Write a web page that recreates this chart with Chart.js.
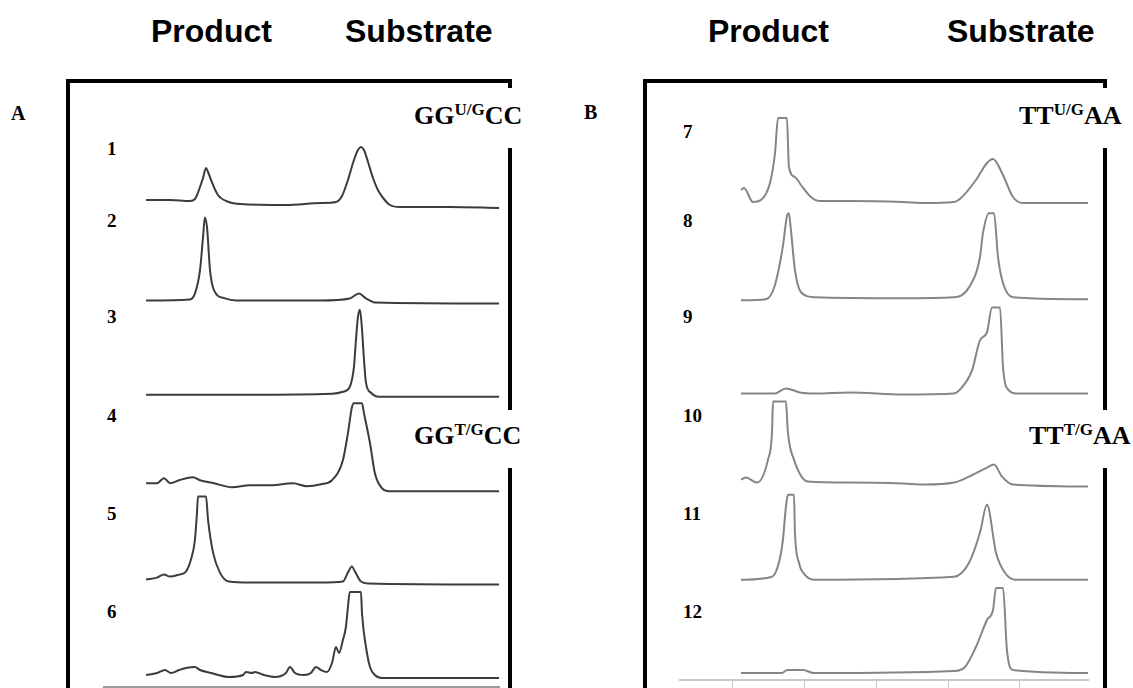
<!DOCTYPE html>
<html>
<head>
<meta charset="utf-8">
<script src="https://cdn.jsdelivr.net/npm/chart.js@4.4.0/dist/chart.umd.min.js"></script>
<style>
  body { margin: 0; width: 1133px; height: 688px; overflow: hidden; position: relative; background: #fff; font-family: "Liberation Serif", "Times New Roman", serif; }
  .txt { position: absolute; line-height: 1; white-space: nowrap; font-weight: bold; }
  .head { font-family: "Liberation Sans", Arial, sans-serif; font-size: 32px; }
  .box { position: absolute; border: 4px solid #000; border-bottom: none; height: 700px; }
  .gap { position: absolute; background: #fff; width: 12px; }
  .lane { font-size: 19px; }
  .panel { font-size: 20px; }
  .seq { font-size: 26px; }
  .seq span { position: relative; top: -9px; font-size: 17px; }
  canvas { position: absolute; }
</style>
</head>
<body>
<!-- column headings -->
<div class="txt head" style="left:151px;top:15px">Product</div>
<div class="txt head" style="left:345px;top:15px">Substrate</div>
<div class="txt head" style="left:708px;top:15px">Product</div>
<div class="txt head" style="left:947px;top:15px">Substrate</div>

<!-- panel frames -->
<div class="box" style="left:66px;top:79px;width:438px"></div>
<div class="box" style="left:643px;top:79px;width:456px"></div>
<div class="gap" style="left:504px;top:88px;height:60px"></div>
<div class="gap" style="left:504px;top:410px;height:58px"></div>
<div class="gap" style="left:1100px;top:88px;height:60px"></div>
<div class="gap" style="left:1100px;top:410px;height:58px"></div>

<div class="txt panel" style="left:11px;top:103px">A</div>
<div class="txt panel" style="left:584px;top:102px">B</div>

<div class="txt seq" style="left:414px;top:103px">GG<span>U/G</span>CC</div>
<div class="txt seq" style="left:414px;top:423px">GG<span>T/G</span>CC</div>
<div class="txt seq" style="left:1019px;top:103px">TT<span>U/G</span>AA</div>
<div class="txt seq" style="left:1029px;top:423px">TT<span>T/G</span>AA</div>

<div class="txt lane" style="left:107px;top:139px">1</div>
<div class="txt lane" style="left:107px;top:211px">2</div>
<div class="txt lane" style="left:107px;top:307px">3</div>
<div class="txt lane" style="left:107px;top:406px">4</div>
<div class="txt lane" style="left:107px;top:504px">5</div>
<div class="txt lane" style="left:107px;top:602px">6</div>
<div class="txt lane" style="left:683px;top:122px">7</div>
<div class="txt lane" style="left:683px;top:211px">8</div>
<div class="txt lane" style="left:683px;top:307px">9</div>
<div class="txt lane" style="left:683px;top:406px">10</div>
<div class="txt lane" style="left:683px;top:504px">11</div>
<div class="txt lane" style="left:683px;top:602px">12</div>

<canvas id="chartA" width="397" height="568" style="left:103px;top:120px"></canvas>
<canvas id="chartB" width="410" height="598" style="left:679px;top:90px"></canvas>

<script>
// traces: [retention time (min), absorbance (a.u.)]
// panel A, GG sequences, lanes 1-6
const lane1 = [[3.0,0],[4.7,0],[6.06,-1],[6.41,1],[6.76,13],[6.97,22],[7.18,32],[7.32,28],[7.53,20],[8.01,5],[8.78,-2],[9.55,-4],[12.75,-5],[15.19,-3],[16.24,-2],[16.66,4],[17.07,20],[17.49,40],[17.77,50],[17.98,53],[18.19,50],[18.47,38],[18.82,22],[19.16,10],[19.58,1],[20.0,-5],[20.7,-7],[24.18,-7],[27.6,-8]];
const lane2 = [[3.0,-5],[6.06,-4],[6.41,2],[6.76,25],[6.97,58],[7.1,78],[7.25,68],[7.46,25],[7.74,5],[8.5,-3],[9.27,-5],[15.19,-5],[17.2,-3],[17.84,2],[18.33,-3],[18.95,-7],[27.6,-8]];
const lane3 = [[3.0,-4],[10.24,-4],[15.96,-3],[16.72,-1],[17.2,4],[17.49,24],[17.63,51],[17.77,74],[17.91,81],[18.05,62],[18.19,31],[18.33,8],[18.68,-2],[19.23,-6],[27.6,-6]];
const lane4 = [[3.0,3],[3.76,3],[4.25,8],[4.67,3],[5.3,6],[6.27,9],[6.76,6],[7.74,3],[8.99,-1],[10.24,1],[11.7,1],[13.24,3],[14.22,0],[15.19,2],[15.96,6],[16.72,26],[17.07,53],[17.35,79],[17.49,83],[18.05,83],[18.19,73],[18.61,43],[18.95,13],[19.44,-2],[19.93,-5],[27.6,-5]];
const lane5 = [[3.0,2],[3.76,4],[4.25,7],[4.67,5],[5.3,7],[5.78,10],[6.13,22],[6.41,42],[6.55,69],[6.62,85],[7.18,85],[7.32,62],[7.67,29],[8.15,9],[8.78,0],[10.24,-1],[15.19,-1],[16.72,0],[17.07,9],[17.35,15],[17.56,10],[17.98,0],[18.47,-2],[27.6,-3]];
const lane6 = [[3.0,2],[3.76,4],[4.32,7],[4.74,4],[5.3,7],[5.78,9],[6.41,10],[6.76,7],[7.53,4],[8.78,0],[9.76,2],[9.97,5],[10.38,4],[10.59,5],[11.22,2],[11.99,0],[12.75,4],[13.03,10],[13.38,4],[14.0,2],[14.49,4],[14.84,10],[15.19,7],[15.61,5],[15.96,14],[16.24,30],[16.45,24],[16.72,37],[16.93,50],[17.07,70],[17.2,85],[17.98,85],[18.05,64],[18.33,30],[18.61,10],[18.95,2],[19.44,-1],[27.6,-1]];

// panel B, TT sequences, lanes 7-12
const lane7 = [[5.56,12],[5.77,14],[6.39,0],[6.95,2],[7.58,19],[7.93,49],[8.14,84],[8.76,84],[8.9,35],[9.32,25],[9.74,17],[10.51,4],[10.99,1],[13.15,1],[16.85,0],[18.38,-1],[20.4,0],[20.89,4],[21.93,22],[22.7,39],[23.12,43],[23.75,29],[24.51,5],[25.21,-1],[29.74,-1]];
const lane8 = [[5.56,-4],[7.3,-3],[7.9,10],[8.48,50],[8.76,80],[8.9,83],[9.04,66],[9.32,26],[9.74,4],[10.71,-1],[16.64,-2],[20.4,-1],[21.45,9],[22.21,39],[22.42,63],[22.84,83],[23.19,83],[23.47,39],[23.82,13],[24.51,-1],[29.74,-3]];
const lane9 = [[5.56,-3],[7.93,-3],[8.69,2],[9.67,-2],[10.71,-3],[13.15,-2],[16.85,-4],[20.4,-3],[20.89,2],[21.66,20],[22.21,50],[22.7,58],[23.05,83],[23.61,83],[23.82,23],[24.23,0],[24.72,-3],[29.74,-3]];
const lane10 = [[5.56,5],[5.91,7],[6.67,2],[7.44,25],[7.72,52],[7.79,83],[8.69,83],[8.83,52],[9.25,25],[10.23,3],[13.15,2],[16.85,1],[18.38,0],[20.4,2],[21.45,8],[22.7,17],[23.19,20],[23.75,8],[24.51,0],[29.74,-2]];
const lane11 = [[5.56,-1],[7.72,2],[8.2,16],[8.48,39],[8.69,72],[8.83,84],[9.25,84],[9.32,46],[9.6,16],[10.02,4],[10.71,-1],[20.4,2],[21.45,16],[22.21,46],[22.7,74],[23.33,26],[23.95,6],[24.72,-1],[29.74,-1]];
const lane12 = [[5.56,0],[8.4,0],[8.8,3],[9.9,3],[10.6,0],[20.4,2],[21.17,6],[21.93,26],[22.7,53],[23.12,63],[23.33,85],[23.82,85],[24.09,23],[24.51,3],[29.74,0]];

const ticksB = [5, 10, 15, 20, 25];

function drawPanel(id, lanes, laneBase, laneGap, xMin, xMax, yMax, color, withTicks) {
  // stack the traces: first lane on top
  const datasets = lanes.map((lane, i) => ({
    data: lane.map(p => ({ x: p[0], y: p[1] + laneBase + laneGap * (lanes.length - 1 - i) })),
    borderColor: color,
    borderWidth: 2,
    pointRadius: 0,
    fill: false,
    cubicInterpolationMode: "monotone",
  }));
  new Chart(document.getElementById(id), {
    type: "line",
    data: { datasets },
    options: {
      responsive: false,
      animation: false,
      layout: { padding: { top: 10, right: 1, bottom: withTicks ? 0 : 1, left: 0 } },
      plugins: { legend: { display: false }, tooltip: { enabled: false } },
      scales: {
        x: {
          type: "linear",
          min: xMin,
          max: xMax,
          afterBuildTicks: (scale) => {
            if (withTicks) scale.ticks = ticksB.map(v => ({ value: v }));
          },
          ticks: { display: false },
          grid: {
            display: true,
            drawOnChartArea: false,
            drawTicks: withTicks,
            tickLength: 8,
            color: "#c8c8c8",
            lineWidth: 1,
          },
          border: { color: withTicks ? "#c8c8c8" : "#9a9a9a", width: 2 },
        },
        y: { display: false, min: 0, max: yMax },
      },
    },
  });
}

drawPanel("chartA", [lane1, lane2, lane3, lane4, lane5, lane6], 10, 95.4, 0, 27.6, 557, "#3c3c3c", false);
drawPanel("chartB", [lane7, lane8, lane9, lane10, lane11, lane12], 7, 94.2, 1.24, 29.74, 580, "#858585", true);
</script>
</body>
</html>
